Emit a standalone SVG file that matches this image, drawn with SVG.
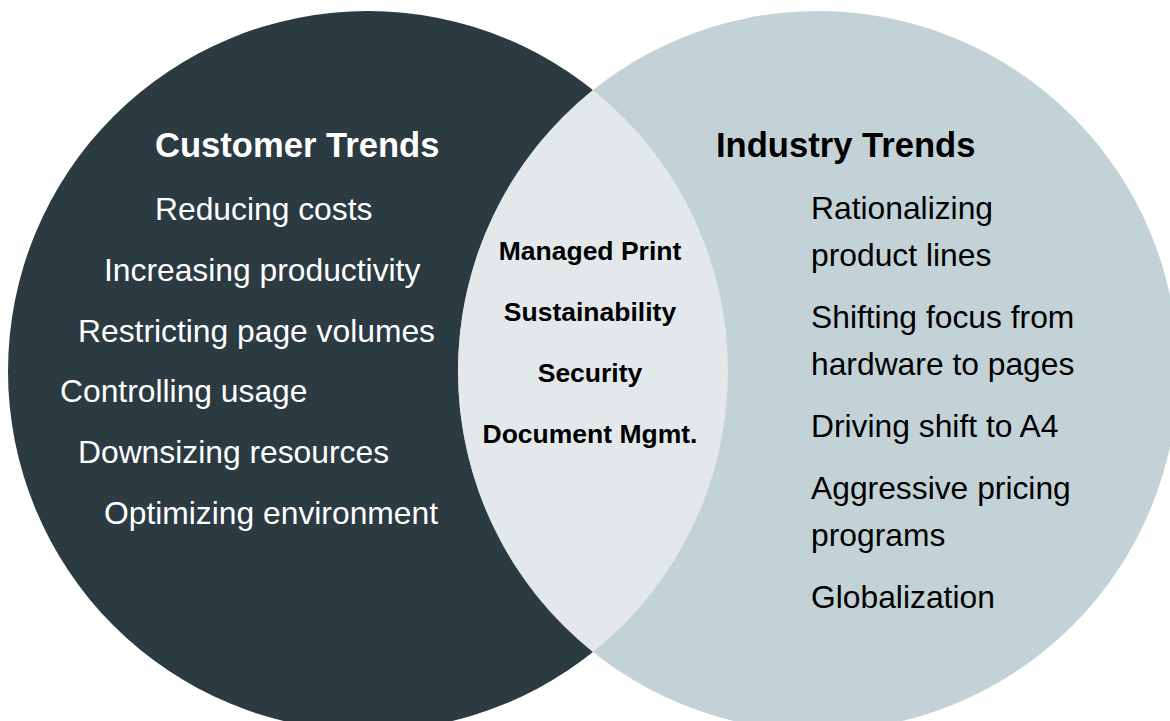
<svg xmlns="http://www.w3.org/2000/svg" width="1170" height="721" viewBox="0 0 1170 721">
  <style>
    .t { font-family: "Liberation Sans", Arial, sans-serif; }
    .title { font-size: 34.6px; font-weight: bold; }
    .body { font-size: 31.8px; }
    .mid { font-size: 26.5px; font-weight: bold; fill: #000000; text-anchor: middle; }
    .white { fill: #ffffff; }
    .black { fill: #000000; }
  </style>
  <rect x="0" y="0" width="1170" height="721" fill="#ffffff"/>
  <g id="customer-trends">
    <circle cx="368" cy="371" r="360" fill="#2c3a42"/>
  </g>
  <g id="industry-trends">
    <circle cx="818" cy="371" r="360" fill="#c3d2d7"/>
  </g>
  <g id="overlap">
    <path d="M593,90 A360,360 0 0,1 593,652 A360,360 0 0,1 593,90 Z" fill="#e3e9eb"/>
  </g>
  <g id="customer-trends-text" class="t white">
    <text class="title" x="155" y="157">Customer Trends</text>
    <text class="body" x="155" y="220">Reducing costs</text>
    <text class="body" x="104" y="281">Increasing productivity</text>
    <text class="body" x="78" y="342">Restricting page volumes</text>
    <text class="body" x="60" y="402">Controlling usage</text>
    <text class="body" x="78" y="463">Downsizing resources</text>
    <text class="body" x="104" y="524">Optimizing environment</text>
  </g>
  <g id="overlap-text" class="t">
    <text class="mid" x="590" y="260">Managed Print</text>
    <text class="mid" x="590" y="321">Sustainability</text>
    <text class="mid" x="590" y="382">Security</text>
    <text class="mid" x="590" y="443">Document Mgmt.</text>
  </g>
  <g id="industry-trends-text" class="t black">
    <text class="title" x="716" y="157">Industry Trends</text>
    <text class="body" x="811" y="219">Rationalizing</text>
    <text class="body" x="811" y="266">product lines</text>
    <text class="body" x="811" y="328">Shifting focus from</text>
    <text class="body" x="811" y="375">hardware to pages</text>
    <text class="body" x="811" y="437">Driving shift to A4</text>
    <text class="body" x="811" y="499">Aggressive pricing</text>
    <text class="body" x="811" y="546">programs</text>
    <text class="body" x="811" y="608">Globalization</text>
  </g>
</svg>
